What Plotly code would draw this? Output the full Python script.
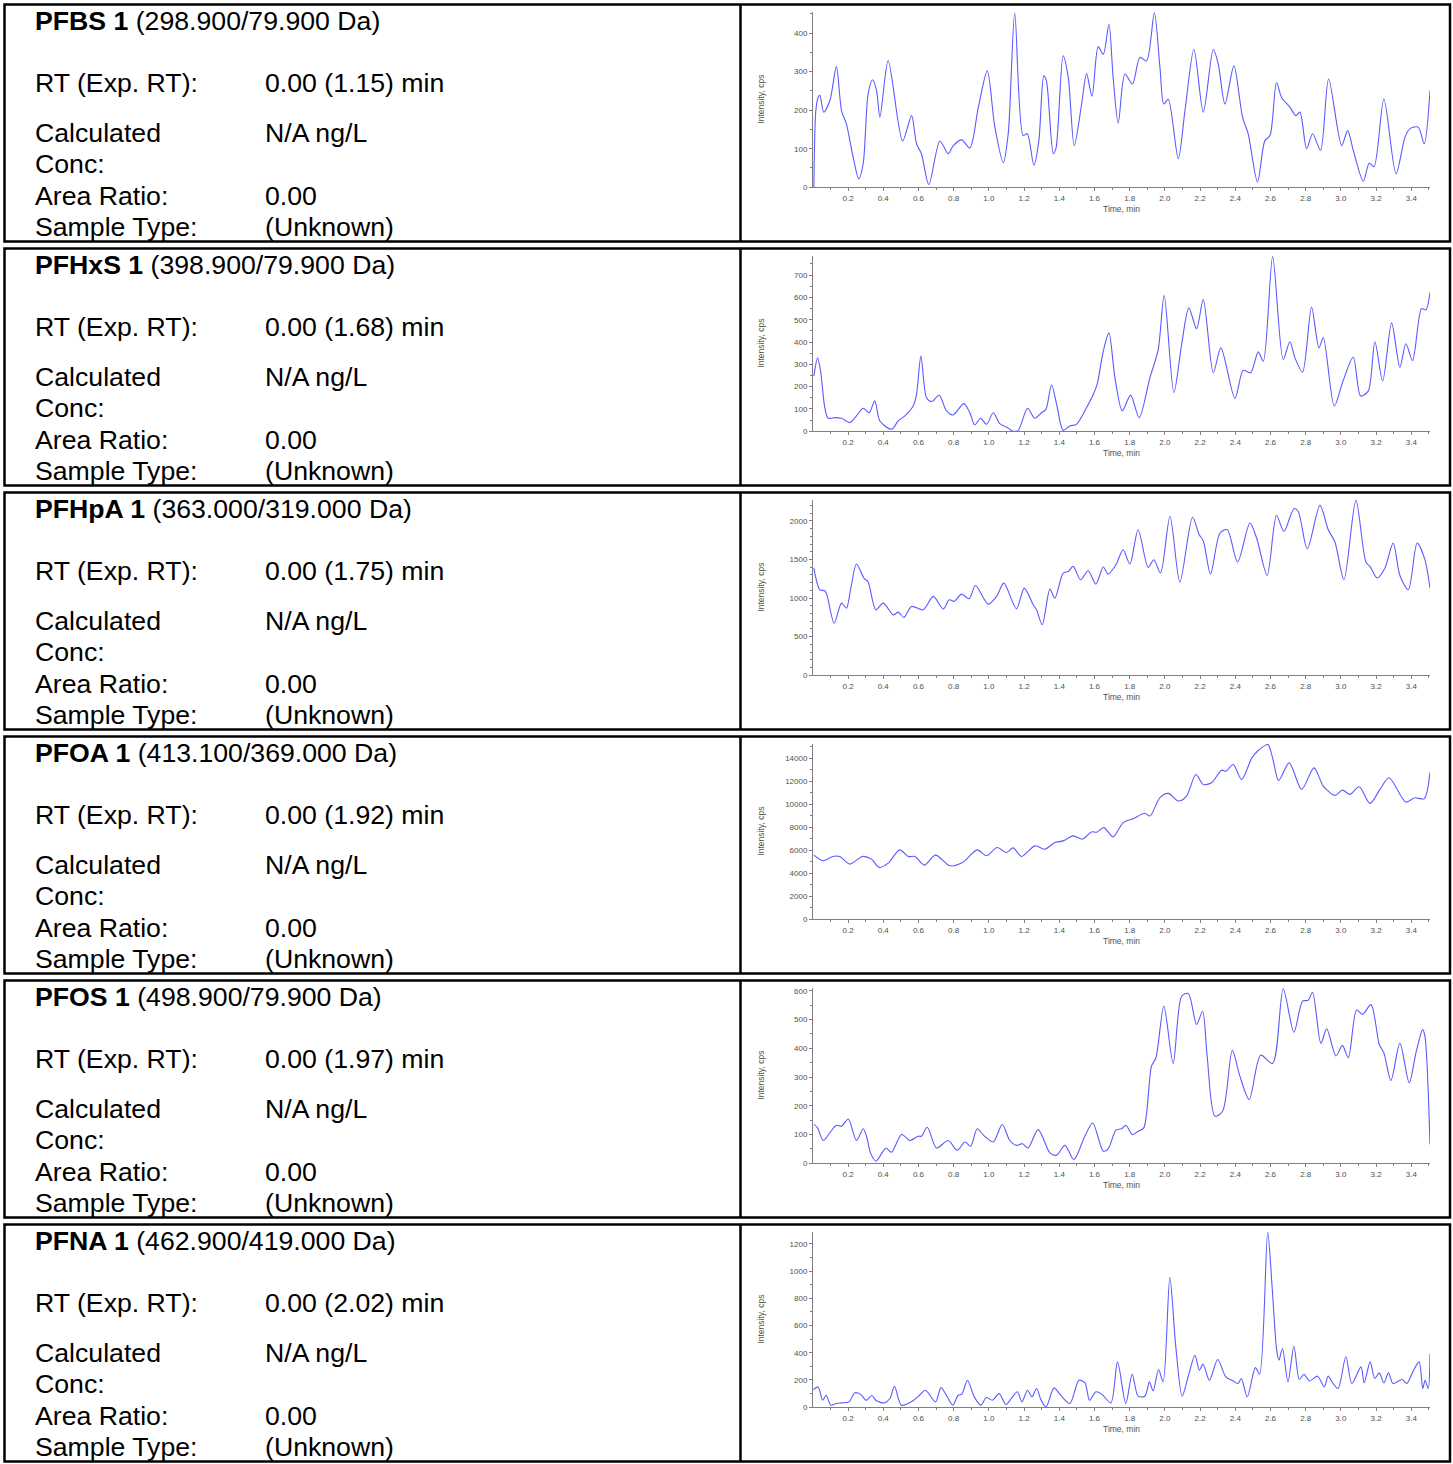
import plotly.graph_objects as go

W, H = 1453, 1464

# ---- sample summary ----
compounds = ["PFBS 1", "PFHxS 1", "PFHpA 1", "PFOA 1", "PFOS 1", "PFNA 1"]
transitions = ["298.900/79.900 Da", "398.900/79.900 Da", "363.000/319.000 Da",
               "413.100/369.000 Da", "498.900/79.900 Da", "462.900/419.000 Da"]
rt_found = ["0.00"] * 6
rt_expected = ["1.15", "1.68", "1.75", "1.92", "1.97", "2.02"]
calc_conc = ["N/A ng/L"] * 6
area_ratio = ["0.00"] * 6
sample_type = ["(Unknown)"] * 6

# ---- axis settings per chromatogram ----
y_top = [455, 786, 2273, 15238, 610, 1287]
y_major = [100, 100, 500, 2000, 100, 200]
y_minor = [50, 50, 100, 1000, 50, 100]
x_end = 3.506
x_major = 0.2
x_minor = 0.1

# ---- XIC traces (time in min, intensity in cps) ----
pfbs_time = [0.006, 0.017, 0.030, 0.040, 0.062, 0.097, 0.134, 0.163, 0.191, 0.229, 0.261, 0.286,
             0.314, 0.339, 0.362, 0.381, 0.428, 0.510, 0.561, 0.589, 0.617, 0.659, 0.722, 0.769,
             0.798, 0.845, 0.892, 0.940, 0.991, 1.034, 1.082, 1.110, 1.147, 1.195, 1.218, 1.256,
             1.284, 1.312, 1.327, 1.366, 1.381, 1.422, 1.451, 1.485, 1.527, 1.555, 1.586, 1.621,
             1.650, 1.682, 1.706, 1.735, 1.773, 1.816, 1.858, 1.896, 1.940, 1.972, 1.994, 2.019,
             2.076, 2.114, 2.165, 2.218, 2.275, 2.303, 2.341, 2.392, 2.441, 2.473, 2.526, 2.568,
             2.597, 2.634, 2.663, 2.710, 2.744, 2.767, 2.805, 2.839, 2.884, 2.930, 3.004, 3.038,
             3.070, 3.127, 3.161, 3.188, 3.244, 3.313, 3.364, 3.392, 3.439, 3.473, 3.506]
pfbs_cps = [0, 199, 233, 239, 195, 225, 313, 199, 164, 78, 22, 61,
            242, 279, 251, 182, 328, 120, 186, 113, 87, 7, 120, 87,
            108, 123, 102, 207, 302, 156, 64, 139, 453, 134, 139, 57,
            121, 289, 276, 87, 100, 341, 285, 108, 216, 295, 236, 365,
            345, 423, 285, 166, 294, 268, 337, 328, 453, 311, 216, 229,
            74, 199, 358, 195, 358, 320, 216, 315, 182, 139, 14, 121,
            134, 272, 233, 208, 186, 195, 100, 139, 96, 281, 108, 147,
            96, 16, 63, 53, 229, 35, 130, 152, 156, 113, 251]

pfhxs_time = [0.006, 0.027, 0.044, 0.068, 0.087, 0.125, 0.163, 0.210, 0.248, 0.286, 0.320, 0.352,
              0.381, 0.447, 0.485, 0.523, 0.570, 0.589, 0.614, 0.646, 0.674, 0.718, 0.759, 0.797,
              0.858, 0.892, 0.920, 0.953, 0.987, 1.025, 1.062, 1.100, 1.138, 1.167, 1.220, 1.261,
              1.299, 1.324, 1.356, 1.385, 1.422, 1.460, 1.498, 1.555, 1.593, 1.615, 1.650, 1.682,
              1.716, 1.758, 1.805, 1.854, 1.915, 1.962, 1.996, 2.051, 2.095, 2.136, 2.180, 2.218,
              2.275, 2.318, 2.398, 2.445, 2.487, 2.530, 2.559, 2.612, 2.672, 2.710, 2.739, 2.782,
              2.833, 2.875, 2.900, 2.962, 3.013, 3.070, 3.112, 3.155, 3.193, 3.237, 3.288, 3.335,
              3.369, 3.407, 3.458, 3.483, 3.506]
pfhxs_cps = [247, 329, 270, 106, 58, 61, 58, 39, 69, 103, 83, 136,
             46, 9, 46, 69, 113, 165, 337, 150, 133, 161, 91, 73,
             124, 83, 28, 58, 31, 83, 34, 19, 0, 4, 103, 58,
             83, 98, 207, 121, 4, 24, 31, 106, 165, 210, 359, 441,
             240, 91, 162, 61, 240, 366, 609, 173, 389, 553, 460, 590,
             262, 374, 147, 273, 262, 356, 314, 783, 322, 401, 329, 265,
             557, 374, 419, 113, 228, 332, 158, 180, 401, 225, 486, 287,
             392, 317, 550, 544, 623]

pfhpa_time = [0.006, 0.040, 0.068, 0.081, 0.121, 0.163, 0.191, 0.216, 0.248, 0.290, 0.314, 0.358,
              0.400, 0.457, 0.485, 0.517, 0.561, 0.627, 0.684, 0.741, 0.775, 0.803, 0.845, 0.888,
              0.924, 0.996, 1.044, 1.085, 1.157, 1.201, 1.252, 1.271, 1.303, 1.347, 1.375, 1.422,
              1.451, 1.479, 1.521, 1.564, 1.608, 1.650, 1.678, 1.722, 1.763, 1.801, 1.848, 1.905,
              1.937, 1.975, 2.029, 2.085, 2.157, 2.195, 2.218, 2.259, 2.313, 2.354, 2.413, 2.483,
              2.521, 2.581, 2.634, 2.676, 2.733, 2.757, 2.809, 2.881, 2.928, 2.966, 3.017, 3.085,
              3.142, 3.165, 3.206, 3.250, 3.297, 3.335, 3.383, 3.433, 3.477, 3.506]
pfhpa_cps = [1390, 1108, 1095, 1035, 675, 935, 870, 1130, 1442, 1260, 1208, 848,
             935, 783, 818, 749, 892, 848, 1022, 861, 978, 957, 1052, 991,
             1164, 922, 1022, 1195, 861, 1130, 913, 848, 654, 1117, 1000, 1325,
             1346, 1411, 1238, 1355, 1182, 1403, 1312, 1433, 1628, 1442, 1887, 1398,
             1498, 1325, 2061, 1208, 2048, 1823, 1745, 1312, 1844, 1887, 1468, 1974,
             1779, 1294, 2074, 1866, 2160, 2126, 1641, 2203, 1887, 1727, 1238, 2268,
             1468, 1411, 1260, 1390, 1714, 1294, 1108, 1714, 1498, 1130]

pfoa_time = [0.006, 0.059, 0.112, 0.153, 0.210, 0.282, 0.333, 0.377, 0.428, 0.494, 0.542, 0.580,
             0.633, 0.697, 0.778, 0.850, 0.934, 0.987, 1.047, 1.100, 1.138, 1.186, 1.261, 1.318,
             1.375, 1.422, 1.479, 1.532, 1.583, 1.612, 1.653, 1.706, 1.763, 1.820, 1.886, 1.915,
             1.972, 2.019, 2.076, 2.123, 2.176, 2.218, 2.265, 2.322, 2.347, 2.388, 2.436, 2.494,
             2.532, 2.585, 2.614, 2.646, 2.706, 2.777, 2.847, 2.900, 2.966, 3.009, 3.051, 3.104,
             3.165, 3.222, 3.273, 3.369, 3.420, 3.473, 3.506]
pfoa_cps = [5570, 5080, 5455, 5455, 4790, 5455, 5224, 4502, 4877, 6032, 5455, 5455,
            4704, 5570, 4646, 4935, 6032, 5512, 6234, 5801, 6205, 5455, 6378, 6089,
            6667, 6811, 7244, 6955, 7590, 7560, 7965, 7157, 8398, 8745, 9206, 8975,
            10563, 10938, 10274, 10707, 12583, 11717, 11861, 12958, 12871, 13449, 12150, 14026,
            14690, 15180, 13882, 12063, 13593, 11284, 13160, 11573, 10765, 11226, 10851, 11515,
            10072, 11284, 12294, 10187, 10563, 10476, 12785]

pfos_time = [0.006, 0.027, 0.059, 0.097, 0.134, 0.163, 0.201, 0.248, 0.286, 0.305, 0.328, 0.358,
             0.415, 0.447, 0.504, 0.551, 0.598, 0.617, 0.650, 0.703, 0.769, 0.820, 0.864, 0.896,
             0.934, 0.972, 1.025, 1.076, 1.119, 1.157, 1.191, 1.223, 1.280, 1.347, 1.385, 1.432,
             1.483, 1.545, 1.590, 1.650, 1.678, 1.722, 1.754, 1.778, 1.816, 1.848, 1.880, 1.924,
             1.949, 1.994, 2.047, 2.095, 2.133, 2.180, 2.214, 2.240, 2.284, 2.328, 2.383, 2.426,
             2.479, 2.544, 2.612, 2.672, 2.733, 2.782, 2.814, 2.839, 2.886, 2.919, 2.972, 3.008,
             3.042, 3.089, 3.123, 3.171, 3.218, 3.244, 3.284, 3.335, 3.388, 3.426, 3.464, 3.477,
             3.506]
pfos_cps = [135, 123, 79, 106, 132, 129, 154, 79, 120, 94, 36, 7,
            52, 38, 100, 79, 94, 94, 125, 53, 79, 45, 74, 59,
            120, 96, 74, 135, 79, 62, 68, 53, 117, 36, 28, 62,
            13, 94, 140, 42, 50, 115, 120, 132, 100, 111, 123, 338,
            367, 547, 347, 581, 591, 483, 529, 373, 164, 181, 393, 303,
            222, 376, 347, 607, 456, 564, 567, 595, 417, 468, 373, 410,
            367, 533, 518, 552, 413, 384, 288, 417, 280, 384, 465, 442,
            65]

pfna_time = [0.004, 0.030, 0.056, 0.076, 0.102, 0.133, 0.167, 0.206, 0.237, 0.270, 0.304, 0.335,
             0.361, 0.407, 0.438, 0.464, 0.503, 0.568, 0.606, 0.640, 0.697, 0.728, 0.762, 0.795,
             0.826, 0.847, 0.878, 0.917, 0.955, 0.986, 1.020, 1.058, 1.097, 1.128, 1.162, 1.188,
             1.219, 1.245, 1.271, 1.297, 1.325, 1.370, 1.408, 1.460, 1.512, 1.546, 1.572, 1.608,
             1.641, 1.693, 1.731, 1.778, 1.814, 1.848, 1.886, 1.912, 1.933, 1.964, 1.990, 2.028,
             2.062, 2.098, 2.132, 2.171, 2.196, 2.217, 2.253, 2.300, 2.346, 2.390, 2.416, 2.434,
             2.468, 2.514, 2.538, 2.584, 2.609, 2.635, 2.648, 2.668, 2.699, 2.733, 2.764, 2.790,
             2.821, 2.867, 2.906, 2.927, 2.958, 2.984, 3.028, 3.062, 3.114, 3.132, 3.166, 3.192,
             3.218, 3.244, 3.270, 3.296, 3.348, 3.374, 3.413, 3.444, 3.465, 3.478, 3.496, 3.506]
pfna_cps = [130, 149, 51, 88, 15, 27, 32, 39, 105, 96, 51, 86,
            47, 32, 64, 154, 15, 47, 88, 125, 39, 144, 81, 15,
            88, 96, 198, 76, 15, 71, 51, 100, 20, 64, 113, 39,
            125, 76, 137, 51, 2, 142, 88, 27, 198, 179, 51, 113,
            96, 32, 333, 27, 242, 81, 81, 186, 120, 277, 186, 953,
            443, 81, 223, 382, 272, 316, 198, 350, 223, 191, 174, 211,
            76, 291, 242, 1285, 884, 419, 345, 431, 186, 448, 203, 242,
            193, 228, 149, 228, 169, 137, 370, 174, 296, 179, 333, 211,
            252, 179, 252, 174, 203, 174, 272, 333, 137, 198, 137, 394]

series_time = [pfbs_time, pfhxs_time, pfhpa_time, pfoa_time, pfos_time, pfna_time]
series_cps = [pfbs_cps, pfhxs_cps, pfhpa_cps, pfoa_cps, pfos_cps, pfna_cps]

# ---- page geometry (pixels) ----
ROW = 245
PLOT_LEFT, PLOT_RIGHT = 813, 1430
PLOT_TOP, PLOT_BOTTOM = 11, 187

TEXT_FONT = "Liberation Sans, Arial, sans-serif"
TEXT_SIZE = 26.67
AXIS_COLOR = "#7f7f7f"
LABEL_COLOR = "#505050"
TRACE_COLOR = "#5a5aff"


def px_x(x):
    return x / W


def px_y(y):
    return 1 - y / H


fig = go.Figure()
annotations = []
shapes = []

for i in range(6):
    k = "" if i == 0 else str(i + 1)
    top = ROW * i

    fig.add_trace(go.Scatter(
        x=series_time[i], y=series_cps[i], mode="lines",
        line=dict(color=TRACE_COLOR, width=1.1, shape="spline", smoothing=0.8),
        xaxis="x" + k, yaxis="y" + k, showlegend=False, hoverinfo="skip"))

    fig.update_layout({
        "xaxis" + k: dict(
            domain=[px_x(PLOT_LEFT), px_x(PLOT_RIGHT)], anchor="y" + k,
            range=[0.001, x_end], tickmode="linear", tick0=0, dtick=x_major,
            tickformat=".1f", showgrid=False, zeroline=False,
            showline=True, linecolor=AXIS_COLOR, linewidth=1,
            ticks="outside", ticklen=3, tickcolor=AXIS_COLOR,
            tickfont=dict(family=TEXT_FONT, size=8, color=LABEL_COLOR),
            minor=dict(dtick=x_minor, ticks="outside", ticklen=2, tickcolor=AXIS_COLOR),
            fixedrange=True),
        "yaxis" + k: dict(
            domain=[px_y(top + PLOT_BOTTOM), px_y(top + PLOT_TOP)], anchor="x" + k,
            range=[0, y_top[i]], tickmode="linear", tick0=0, dtick=y_major[i],
            tickformat="d", showgrid=False, zeroline=False,
            showline=True, linecolor=AXIS_COLOR, linewidth=1,
            ticks="outside", ticklen=3, tickcolor=AXIS_COLOR,
            tickfont=dict(family=TEXT_FONT, size=8, color=LABEL_COLOR),
            minor=dict(dtick=y_minor[i], ticks="outside", ticklen=2, tickcolor=AXIS_COLOR),
            fixedrange=True),
    })

    # axis titles
    annotations.append(dict(
        text="Time, min", xref="paper", yref="paper",
        x=px_x((PLOT_LEFT + PLOT_RIGHT) / 2), y=px_y(top + 209),
        xanchor="center", yanchor="middle", showarrow=False,
        font=dict(family=TEXT_FONT, size=8.5, color=LABEL_COLOR)))
    annotations.append(dict(
        text="Intensity, cps", xref="paper", yref="paper", textangle=-90,
        x=px_x(761), y=px_y(top + 99),
        xanchor="center", yanchor="middle", showarrow=False,
        font=dict(family=TEXT_FONT, size=8.5, color=LABEL_COLOR)))

    # left-hand summary cell
    lines = [
        (f"<b>{compounds[i]}</b> ({transitions[i]})", None, 20),
        ("RT (Exp. RT):", f"{rt_found[i]} ({rt_expected[i]}) min", 82),
        ("Calculated", calc_conc[i], 133),
        ("Conc:", None, 164),
        ("Area Ratio:", area_ratio[i], 196),
        ("Sample Type:", sample_type[i], 226.5),
    ]
    for label, value, yy in lines:
        annotations.append(dict(
            text=label, xref="paper", yref="paper",
            x=px_x(33), y=px_y(top + yy), xanchor="left", yanchor="middle",
            showarrow=False, font=dict(family=TEXT_FONT, size=TEXT_SIZE, color="black")))
        if value is not None:
            annotations.append(dict(
                text=value, xref="paper", yref="paper",
                x=px_x(263), y=px_y(top + yy), xanchor="left", yanchor="middle",
                showarrow=False, font=dict(family=TEXT_FONT, size=TEXT_SIZE, color="black")))

    # cell borders
    shapes.append(dict(type="rect", xref="paper", yref="paper",
                       x0=px_x(4.5), x1=px_x(1450),
                       y0=px_y(top + 3.5), y1=px_y(top + 241.5),
                       line=dict(color="black", width=2.5)))
    shapes.append(dict(type="line", xref="paper", yref="paper",
                       x0=px_x(740.5), x1=px_x(740.5),
                       y0=px_y(top + 3.5), y1=px_y(top + 241.5),
                       line=dict(color="black", width=2.5)))

fig.update_layout(
    width=W, height=H,
    margin=dict(l=0, r=0, t=0, b=0),
    paper_bgcolor="white", plot_bgcolor="white",
    annotations=annotations, shapes=shapes,
)

fig.write_html("out.html")
